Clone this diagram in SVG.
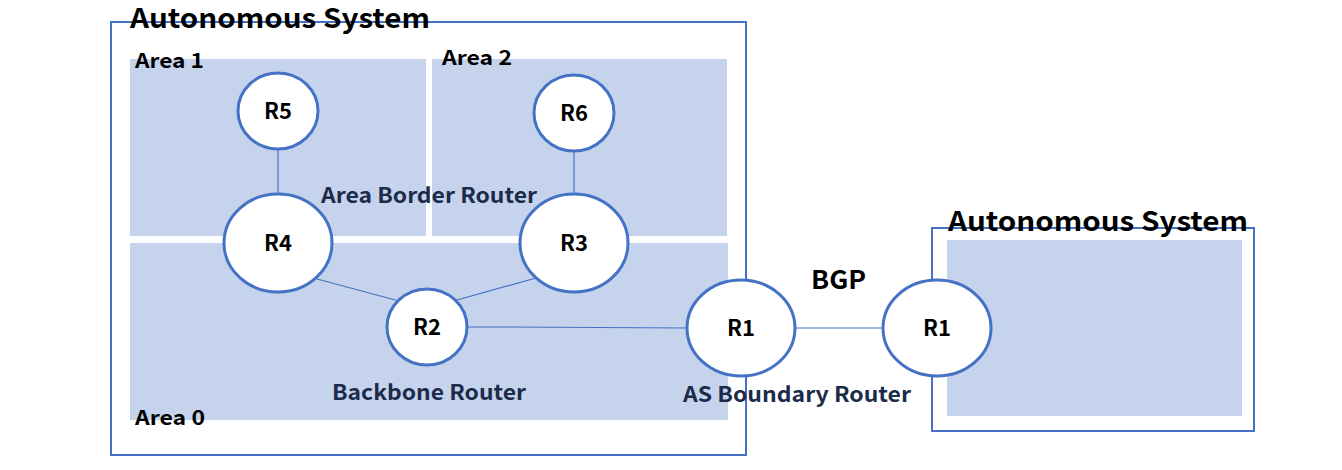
<svg xmlns="http://www.w3.org/2000/svg" width="1342" height="470" viewBox="0 0 1342 470">
<style>
.box{fill:none;stroke:#4472C4;stroke-width:2}
.area{fill:#C5D3EC}
.node{fill:#FFFFFF;stroke:#4472C4;stroke-width:3}
.lnk{stroke:#4472C4;stroke-width:1.2;fill:none}
text{font-family:"Noto Sans CJK SC","Noto Sans",sans-serif;font-weight:bold}
.t{font-size:27px;fill:#000}
.a{font-size:20px;fill:#000}
.n{font-size:22px;fill:#000;text-anchor:middle}
.r{font-size:21px;fill:#1C2B4A}
</style>
<rect x="0" y="0" width="1342" height="470" fill="#FFFFFF"/>
<g id="as-left">
<rect class="box" x="111" y="22" width="635" height="433"/>
<text class="t" x="130" y="28" textLength="300" lengthAdjust="spacingAndGlyphs">Autonomous System</text>
</g>
<g id="area1">
<rect class="area" x="130" y="59" width="296" height="177"/>
<text class="a" x="135" y="68" textLength="69" lengthAdjust="spacingAndGlyphs">Area 1</text>
</g>
<g id="area2">
<rect class="area" x="432" y="59" width="295" height="177"/>
<text class="a" x="442" y="65" textLength="70" lengthAdjust="spacingAndGlyphs">Area 2</text>
</g>
<g id="area0">
<rect class="area" x="130" y="243" width="598" height="177"/>
<text class="a" x="135" y="425" textLength="70" lengthAdjust="spacingAndGlyphs">Area 0</text>
</g>
<g id="as-right">
<rect class="box" x="932" y="228" width="322" height="203"/>
<rect class="area" x="947" y="240" width="295" height="176"/>
<text class="t" x="948" y="231" textLength="300" lengthAdjust="spacingAndGlyphs">Autonomous System</text>
</g>
<g id="connectors">
<line class="lnk" x1="278" y1="150" x2="278" y2="195"/>
<line class="lnk" x1="574" y1="152" x2="574" y2="194"/>
<line class="lnk" x1="317" y1="279" x2="399" y2="301"/>
<line class="lnk" x1="536" y1="278" x2="457" y2="300"/>
<polyline class="lnk" points="467,327 510,327 687,328"/>
<line class="lnk" x1="796" y1="328" x2="883" y2="328"/>
</g>
<g id="R5">
<ellipse class="node" cx="278" cy="111" rx="40" ry="38"/>
<text class="n" x="278" y="119">R5</text>
</g>
<g id="R6">
<ellipse class="node" cx="574" cy="113" rx="40" ry="38"/>
<text class="n" x="574" y="121">R6</text>
</g>
<g id="R4">
<ellipse class="node" cx="278" cy="243" rx="54" ry="49"/>
<text class="n" x="278" y="251">R4</text>
</g>
<g id="R3">
<ellipse class="node" cx="574" cy="243" rx="54" ry="49"/>
<text class="n" x="574" y="251">R3</text>
</g>
<g id="R2">
<ellipse class="node" cx="427" cy="327" rx="40" ry="38"/>
<text class="n" x="427" y="335">R2</text>
</g>
<g id="R1-left">
<ellipse class="node" cx="741" cy="328" rx="54" ry="48"/>
<text class="n" x="741" y="336">R1</text>
</g>
<g id="R1-right">
<ellipse class="node" cx="937" cy="328" rx="54" ry="48"/>
<text class="n" x="937" y="336">R1</text>
</g>
<g id="labels">
<text class="r" x="321" y="203" textLength="216" lengthAdjust="spacingAndGlyphs">Area Border Router</text>
<text class="r" x="332" y="400" textLength="194" lengthAdjust="spacingAndGlyphs">Backbone Router</text>
<text class="r" x="683" y="402" textLength="228" lengthAdjust="spacingAndGlyphs">AS Boundary Router</text>
<text style="font-size:26px;fill:#000" x="811" y="289" textLength="55" lengthAdjust="spacingAndGlyphs">BGP</text>
</g>
</svg>
